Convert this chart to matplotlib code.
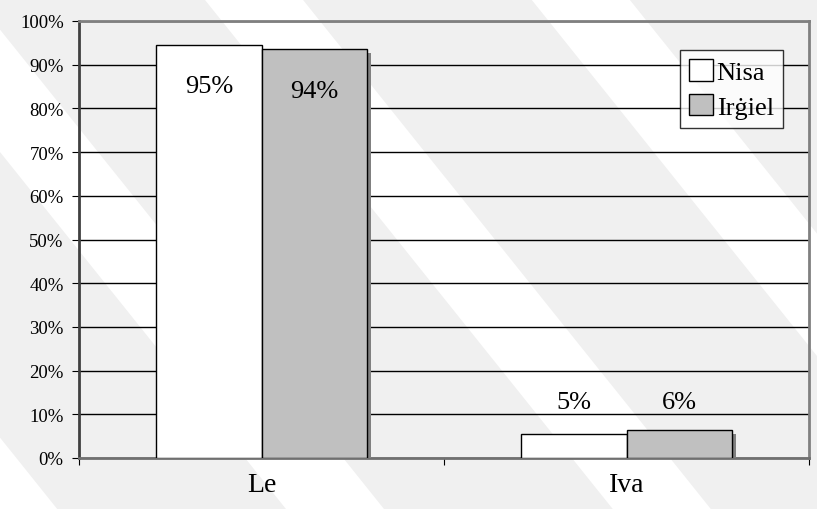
import numpy as np
import matplotlib.pyplot as plt
import matplotlib.patheffects as pe

categories = ["Le", "Iva"]
series_names = ["Nisa", "Irġiel"]
nisa = [94.6, 5.4]
irgiel = [93.6, 6.4]

plt.rcParams['font.family'] = ['Liberation Serif', 'DejaVu Serif']

fig = plt.figure(figsize=(8.17, 5.10), dpi=100)
fig.patch.set_facecolor('#f0f0f0')

# light watermark-like diagonal bands in the background
for x0 in [-0.55, -0.15, 0.25, 0.65, 1.05]:
    band = plt.Polygon([[x0, 1.0], [x0 + 0.12, 1.0], [x0 + 0.62, 0.0], [x0 + 0.5, 0.0]],
                       closed=True, transform=fig.transFigure, facecolor='white',
                       edgecolor='none', zorder=-10)
    fig.patches.append(band)

ax = fig.add_axes([79 / 817, 51 / 510, 730 / 817, 437 / 510])
ax.set_facecolor('none')

x = np.arange(len(categories))
w = 0.288
b1 = ax.bar(x - w / 2, nisa, w, color='white', edgecolor='black', linewidth=1, zorder=3,
            label=series_names[0])
b2 = ax.bar(x + w / 2, irgiel, w, color='#c0c0c0', edgecolor='black', linewidth=1, zorder=3,
            label=series_names[1])
for bars in (b1, b2):
    for p in bars:
        p.set_path_effects([pe.SimplePatchShadow(offset=(3, -3), shadow_rgbFace='#808080', alpha=1),
                            pe.Normal()])

# labels: inside the tall bars, above the short group at a common height
for i in range(len(categories)):
    top = max(nisa[i], irgiel[i])
    for bars, vals in ((b1, nisa), (b2, irgiel)):
        p = bars[i]
        v = vals[i]
        cx = p.get_x() + p.get_width() / 2
        if v > 50:
            ax.annotate(f"{v:.0f}%", (cx, v), xytext=(0, -30), textcoords='offset points',
                        ha='center', va='center', fontsize=19, zorder=5)
        else:
            ax.annotate(f"{v:.0f}%", (cx, top), xytext=(0, 20), textcoords='offset points',
                        ha='center', va='center', fontsize=19, zorder=5)

ax.set_xlim(-0.5, 1.5)
ax.set_ylim(0, 100)
ax.set_yticks(np.arange(0, 101, 10))
ax.set_yticklabels([f"{t}%" for t in range(0, 101, 10)], fontsize=13.5)
ax.yaxis.grid(True, color='black', linewidth=1, zorder=0)
ax.set_axisbelow(True)

ax.set_xticks([-0.5, 0.5, 1.5])
ax.set_xticklabels([])
ax.set_xticks(x, minor=True)
ax.set_xticklabels(categories, minor=True, fontsize=20)
ax.tick_params(axis='x', which='minor', length=0, pad=10)
ax.tick_params(axis='x', which='major', length=5, direction='out', color='black')
ax.tick_params(axis='y', length=5, direction='out', color='black', pad=6)

ax.spines['left'].set_color('#404040')
ax.spines['left'].set_linewidth(2)
ax.spines['bottom'].set_color('#707070')
ax.spines['bottom'].set_linewidth(2)
ax.spines['top'].set_color('#808080')
ax.spines['top'].set_linewidth(2)
ax.spines['right'].set_color('#808080')
ax.spines['right'].set_linewidth(2)

leg = ax.legend(loc='upper right', bbox_to_anchor=(783 / 817, 459 / 510), bbox_transform=fig.transFigure,
                fontsize=19, frameon=True, fancybox=False, handlelength=0.9, handleheight=0.9,
                handletextpad=0.15, borderpad=0.35, labelspacing=0.35, borderaxespad=0)
leg.get_frame().set_edgecolor('black')
leg.get_frame().set_linewidth(1)
for h in leg.legend_handles:
    h.set_path_effects([])
leg.set_zorder(6)

fig.savefig("out.png", dpi=100, facecolor=fig.get_facecolor())
